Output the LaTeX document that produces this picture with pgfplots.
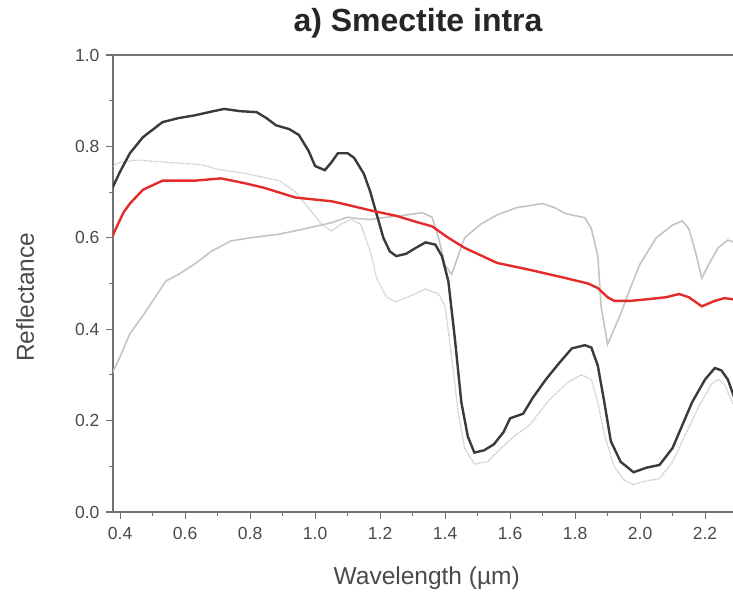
\documentclass[border=0pt]{standalone}
\usepackage{pgfplots}
\pgfplotsset{compat=1.18}
\usepackage{fontspec}
\setmainfont{Liberation Sans}
\definecolor{darkc}{HTML}{3A3A3A}
\definecolor{redc}{HTML}{E52A2A}
\definecolor{lightc}{HTML}{C4C4C4}
\definecolor{axc}{HTML}{727272}
\definecolor{txc}{HTML}{4A4A4A}
\begin{document}
\begin{tikzpicture}[x=1pt,y=1pt]
\useasboundingbox (0,0) rectangle (733,597);
\begin{axis}[
  at={(113pt,85pt)}, anchor=south west,
  scale only axis, width=620pt, height=457pt,
  xmin=0.378, xmax=2.286, ymin=0, ymax=1,
  axis x line*=bottom, axis y line*=left,
  axis line style={axc, line width=2pt},
  tick style={axc, line width=1.1pt},
  tick align=outside,
  major tick length=7pt, minor tick length=4pt,
  xtick={0.4,0.6,...,2.21}, ytick={0,0.2,...,1.01},
  minor x tick num=1, minor y tick num=1,
  /pgf/number format/assume math mode=true,
  /pgf/number format/fixed, /pgf/number format/fixed zerofill,
  /pgf/number format/precision=1,
  ticklabel style={font=\fontsize{17.5}{19}\selectfont, text=txc},
  xticklabel style={yshift=-5pt},
  yticklabel style={xshift=-3pt},
  xlabel={Wavelength (µm)}, ylabel={Reflectance},
  label style={font=\fontsize{24.5}{26}\selectfont, text=txc},
  xlabel style={at={(axis description cs:0.506,0)}, anchor=center, yshift=-66pt},
  ylabel style={at={(axis description cs:0,0.47)}, anchor=center, yshift=88pt},
  title={a) Smectite intra},
  title style={font=\bfseries\fontsize{32}{34}\selectfont, text=black!85, at={(axis description cs:0.492,1)}, anchor=base, yshift=17pt},
  clip=true,
]
\addplot[lightc, line width=1.3pt, densely dotted] coordinates {
(0.37,0.755)(0.40,0.765)(0.45,0.77)(0.55,0.765)(0.65,0.76)(0.70,0.75)(0.79,0.74)(0.89,0.725)(0.94,0.70)(0.98,0.665)(1.02,0.63)(1.05,0.615)(1.08,0.63)(1.11,0.64)(1.14,0.63)(1.17,0.57)(1.19,0.51)(1.22,0.47)(1.25,0.46)(1.30,0.475)(1.34,0.488)(1.38,0.477)(1.40,0.45)(1.42,0.34)(1.44,0.22)(1.46,0.14)(1.49,0.105)(1.53,0.11)(1.58,0.145)(1.62,0.17)(1.66,0.19)(1.72,0.245)(1.78,0.285)(1.82,0.30)(1.85,0.29)(1.87,0.24)(1.89,0.17)(1.92,0.10)(1.95,0.07)(1.98,0.06)(2.02,0.068)(2.06,0.073)(2.10,0.11)(2.14,0.17)(2.18,0.23)(2.22,0.28)(2.24,0.29)(2.26,0.28)(2.29,0.23)(2.32,0.20)
};
\addplot[lightc, line width=1.6pt] coordinates {
(0.37,0.295)(0.40,0.34)(0.43,0.39)(0.48,0.44)(0.54,0.505)(0.58,0.52)(0.63,0.543)(0.68,0.57)(0.74,0.593)(0.80,0.60)(0.89,0.608)(0.97,0.62)(1.05,0.633)(1.10,0.645)(1.13,0.642)(1.17,0.64)(1.22,0.645)(1.28,0.65)(1.33,0.655)(1.36,0.645)(1.38,0.60)(1.40,0.54)(1.42,0.52)(1.44,0.56)(1.46,0.60)(1.51,0.63)(1.56,0.65)(1.62,0.666)(1.70,0.675)(1.74,0.665)(1.77,0.653)(1.83,0.644)(1.85,0.62)(1.87,0.56)(1.88,0.45)(1.90,0.367)(1.92,0.40)(1.94,0.433)(1.97,0.49)(2.00,0.543)(2.05,0.60)(2.10,0.628)(2.13,0.637)(2.15,0.62)(2.17,0.57)(2.19,0.512)(2.21,0.54)(2.24,0.578)(2.27,0.595)(2.29,0.59)(2.32,0.58)
};
\addplot[darkc, line width=2.4pt] coordinates {
(0.37,0.70)(0.40,0.745)(0.43,0.785)(0.47,0.82)(0.53,0.853)(0.58,0.862)(0.63,0.868)(0.68,0.876)(0.72,0.882)(0.77,0.877)(0.82,0.875)(0.85,0.862)(0.88,0.846)(0.92,0.838)(0.95,0.825)(0.98,0.79)(1.00,0.757)(1.03,0.748)(1.05,0.765)(1.07,0.785)(1.10,0.785)(1.12,0.775)(1.15,0.74)(1.17,0.70)(1.19,0.65)(1.21,0.60)(1.23,0.57)(1.25,0.56)(1.28,0.565)(1.31,0.578)(1.34,0.59)(1.37,0.585)(1.39,0.56)(1.41,0.505)(1.43,0.38)(1.45,0.24)(1.47,0.165)(1.49,0.13)(1.52,0.135)(1.55,0.148)(1.58,0.175)(1.60,0.205)(1.62,0.21)(1.64,0.215)(1.67,0.25)(1.71,0.29)(1.75,0.325)(1.79,0.358)(1.83,0.365)(1.85,0.36)(1.87,0.32)(1.89,0.24)(1.91,0.155)(1.94,0.11)(1.98,0.087)(2.02,0.097)(2.06,0.103)(2.10,0.14)(2.13,0.19)(2.16,0.24)(2.20,0.29)(2.23,0.315)(2.25,0.31)(2.27,0.29)(2.29,0.25)(2.32,0.22)
};
\addplot[redc, line width=2.4pt] coordinates {
(0.37,0.593)(0.39,0.625)(0.41,0.655)(0.43,0.675)(0.47,0.705)(0.53,0.725)(0.63,0.725)(0.71,0.73)(0.78,0.72)(0.84,0.71)(0.94,0.688)(1.05,0.68)(1.10,0.672)(1.17,0.66)(1.25,0.648)(1.31,0.635)(1.36,0.625)(1.41,0.60)(1.46,0.578)(1.56,0.545)(1.66,0.53)(1.77,0.512)(1.84,0.50)(1.87,0.49)(1.90,0.47)(1.92,0.462)(1.97,0.462)(2.03,0.466)(2.08,0.47)(2.12,0.477)(2.15,0.47)(2.19,0.45)(2.23,0.462)(2.26,0.468)(2.29,0.465)(2.32,0.465)
};
\draw[axc, line width=2pt] (rel axis cs:0,1) -- (rel axis cs:1,1);
\end{axis}
\end{tikzpicture}
\end{document}
